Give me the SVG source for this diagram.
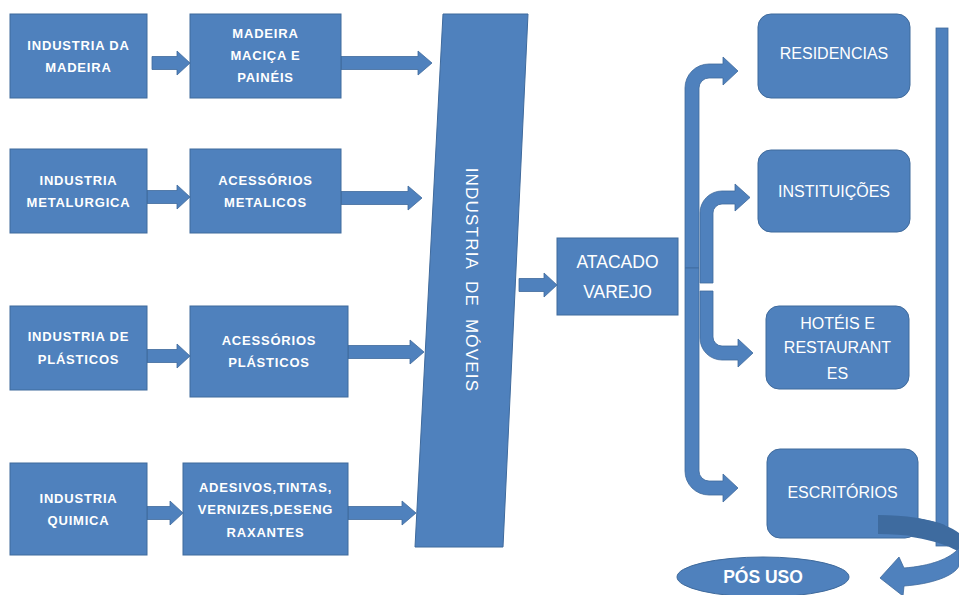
<svg xmlns="http://www.w3.org/2000/svg" width="959" height="595" viewBox="0 0 959 595">
  <style>
    .box { fill: #4F81BD; stroke: #3F6A9C; stroke-width: 1; }
    .arrow { fill: #4F81BD; stroke: #3F6A9C; stroke-width: 0.8; }
    .lbl { fill: #FFFFFF; font-family: "Liberation Sans", Arial, sans-serif; text-anchor: middle; dominant-baseline: central; }
    .sm { font-size: 13px; font-weight: bold; letter-spacing: 0.8px; }
    .md { font-size: 16px; }
    .lg { font-size: 17.5px; }
  </style>
  <rect width="959" height="595" fill="#FFFFFF"/>

  <!-- connectors -->
  <g id="connectors">
    <!-- straight block arrows: shaft half-height 6.5, head half-height 12.5 -->
    <path class="arrow" d="M152,56.5 H177 V51 L190,63 L177,75 V69.5 H152 Z"/>
    <path class="arrow" d="M341,56.5 H418 V51 L432,63 L418,75 V69.5 H341 Z"/>
    <path class="arrow" d="M147,190.5 H177 V185 L190,197 L177,209 V203.5 H147 Z"/>
    <path class="arrow" d="M341,191.5 H408 V186 L422,198 L408,210 V204.5 H341 Z"/>
    <path class="arrow" d="M147,349.5 H177 V344 L190,356 L177,368 V362.5 H147 Z"/>
    <path class="arrow" d="M348,345.5 H410 V340 L424,352 L410,364 V358.5 H348 Z"/>
    <path class="arrow" d="M147,506.5 H170 V501 L183,513 L170,525 V519.5 H147 Z"/>
    <path class="arrow" d="M348,506.5 H402 V501 L416,513 L402,525 V519.5 H348 Z"/>
    <path class="arrow" d="M519,278.5 H544 V273 L557,285 L544,297 V291.5 H519 Z"/>

    <!-- bent arrows from wholesale/retail to destinations -->
    <path class="arrow" d="M685,268 V88 A24,24 0 0 1 709,64 H723 V57 L738,71 L723,85 V78 H709 A10,10 0 0 0 699,88 V268 Z"/>
    <path class="arrow" d="M700,283 V213 A22,22 0 0 1 722,191 H735 V184 L750,197.5 L735,211 V204 H722 A9,9 0 0 0 713,213 V283 Z"/>
    <path class="arrow" d="M700,291 V338 A22,22 0 0 0 722,360 H738 V367 L753,353 L738,339 V346 H722 A9,9 0 0 1 713,337 V291 Z"/>
    <path class="arrow" d="M685,268 V471 A24,24 0 0 0 709,495 H723 V502 L738,488 L723,474 V481 H709 A10,10 0 0 1 699,471 V268 Z"/>

    <!-- return path on the right -->
    <rect class="arrow" x="936" y="28" width="12" height="518"/>
    <path d="M878,515 C912,515 945,522 959,533 L959,552 C945,543 915,535 878,534 Z" fill="#3E6B9F"/>
    <path class="arrow" d="M959,548 C950,559 930,566 904,568 L899,557 L880,578 L903,596 L904,586 C932,584 954,576 959,566 Z"/>
  </g>

  <!-- source industries -->
  <g id="ind-madeira">
    <rect class="box" x="10" y="14" width="137" height="84"/>
    <text class="lbl sm" x="78.5" y="45">INDUSTRIA DA</text>
    <text class="lbl sm" x="78.5" y="67">MADEIRA</text>
  </g>
  <g id="madeira-macica">
    <rect class="box" x="190" y="14" width="151" height="84"/>
    <text class="lbl sm" x="265.5" y="33">MADEIRA</text>
    <text class="lbl sm" x="265.5" y="55">MACIÇA E</text>
    <text class="lbl sm" x="265.5" y="77">PAINÉIS</text>
  </g>
  <g id="ind-metalurgica">
    <rect class="box" x="10" y="149" width="137" height="84"/>
    <text class="lbl sm" x="78.5" y="180">INDUSTRIA</text>
    <text class="lbl sm" x="78.5" y="202">METALURGICA</text>
  </g>
  <g id="acessorios-metalicos">
    <rect class="box" x="190" y="149" width="151" height="84"/>
    <text class="lbl sm" x="265.5" y="180">ACESSÓRIOS</text>
    <text class="lbl sm" x="265.5" y="202">METALICOS</text>
  </g>
  <g id="ind-plasticos">
    <rect class="box" x="10" y="306" width="137" height="84"/>
    <text class="lbl sm" x="78.5" y="336">INDUSTRIA DE</text>
    <text class="lbl sm" x="78.5" y="359">PLÁSTICOS</text>
  </g>
  <g id="acessorios-plasticos">
    <rect class="box" x="190" y="306" width="158" height="91"/>
    <text class="lbl sm" x="269" y="340">ACESSÓRIOS</text>
    <text class="lbl sm" x="269" y="362">PLÁSTICOS</text>
  </g>
  <g id="ind-quimica">
    <rect class="box" x="10" y="463" width="137" height="92"/>
    <text class="lbl sm" x="78.5" y="498">INDUSTRIA</text>
    <text class="lbl sm" x="78.5" y="520">QUIMICA</text>
  </g>
  <g id="adesivos">
    <rect class="box" x="183" y="463" width="165" height="92"/>
    <text class="lbl sm" x="265.5" y="487">ADESIVOS,TINTAS,</text>
    <text class="lbl sm" x="265.5" y="509">VERNIZES,DESENG</text>
    <text class="lbl sm" x="265.5" y="532">RAXANTES</text>
  </g>

  <!-- furniture industry -->
  <g id="ind-moveis">
    <path class="box" d="M443,14 H528 L503,547 H415 Z"/>
    <text class="lbl" transform="translate(471,280) rotate(90)" font-size="17" letter-spacing="1.2" word-spacing="6">INDUSTRIA DE MÓVEIS</text>
  </g>

  <g id="atacado-varejo">
    <rect class="box" x="557" y="238" width="121" height="77"/>
    <text class="lbl lg" x="617.5" y="262">ATACADO</text>
    <text class="lbl lg" x="617.5" y="292">VAREJO</text>
  </g>

  <!-- destinations -->
  <g id="residencias">
    <rect class="box" x="758" y="14" width="152" height="84" rx="13"/>
    <text class="lbl md" x="834" y="53">RESIDENCIAS</text>
  </g>
  <g id="instituicoes">
    <rect class="box" x="758" y="150" width="152" height="82" rx="13"/>
    <text class="lbl md" x="834" y="191">INSTITUIÇÕES</text>
  </g>
  <g id="hoteis">
    <rect class="box" x="766" y="306" width="143" height="83" rx="13"/>
    <text class="lbl md" x="837.5" y="323">HOTÉIS E</text>
    <text class="lbl md" x="837.5" y="347">RESTAURANT</text>
    <text class="lbl md" x="837.5" y="373">ES</text>
  </g>
  <g id="escritorios">
    <rect class="box" x="767" y="449" width="151" height="89" rx="13"/>
    <text class="lbl md" x="842.5" y="492">ESCRITÓRIOS</text>
  </g>

  <!-- redraw the front band of the return arrow over the office box -->
  <path d="M878,515 C905,515 930,519 945,525 L945,543 C930,538 905,534 878,534 Z" fill="#3E6B9F"/>

  <g id="pos-uso">
    <ellipse class="box" cx="763" cy="577" rx="86" ry="20"/>
    <text class="lbl lg" x="763" y="577" font-weight="bold">PÓS USO</text>
  </g>
</svg>
